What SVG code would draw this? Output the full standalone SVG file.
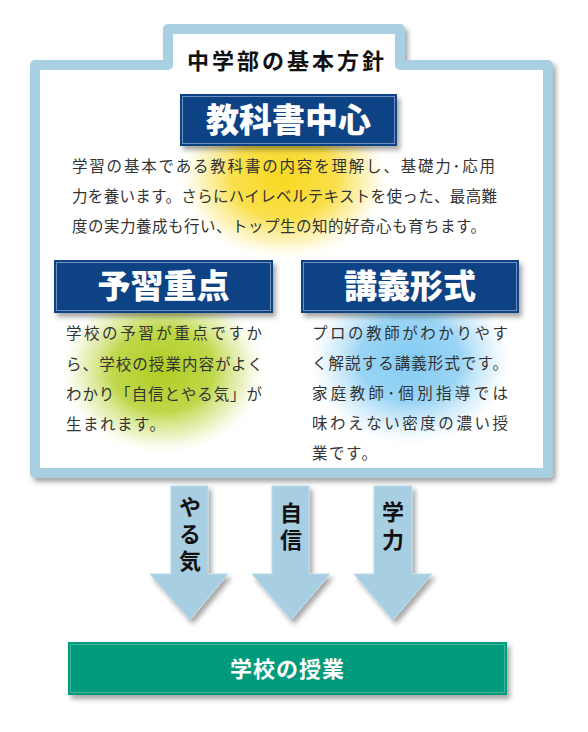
<svg xmlns="http://www.w3.org/2000/svg" width="588" height="732" viewBox="0 0 588 732">
<defs>
<filter id="sh" x="-20%" y="-20%" width="150%" height="150%">
<feDropShadow dx="3" dy="4" stdDeviation="2.5" flood-color="#000" flood-opacity="0.35"/>
</filter>
<radialGradient id="gy" cx="0.5" cy="0.5" r="0.5">
<stop offset="0" stop-color="#f8d820" stop-opacity="1"/>
<stop offset="0.5" stop-color="#f9dc38" stop-opacity="0.9"/>
<stop offset="0.8" stop-color="#fbe77a" stop-opacity="0.45"/>
<stop offset="1" stop-color="#fff8d0" stop-opacity="0"/>
</radialGradient>
<radialGradient id="gg" cx="0.5" cy="0.5" r="0.5">
<stop offset="0" stop-color="#b0cd22" stop-opacity="1"/>
<stop offset="0.5" stop-color="#b8d336" stop-opacity="0.9"/>
<stop offset="0.8" stop-color="#d2e47c" stop-opacity="0.45"/>
<stop offset="1" stop-color="#f0f6c8" stop-opacity="0"/>
</radialGradient>
<radialGradient id="gb" cx="0.5" cy="0.5" r="0.5">
<stop offset="0" stop-color="#82cbf3" stop-opacity="1"/>
<stop offset="0.5" stop-color="#8fd0f4" stop-opacity="0.9"/>
<stop offset="0.8" stop-color="#bce3f7" stop-opacity="0.45"/>
<stop offset="1" stop-color="#e6f5fc" stop-opacity="0"/>
</radialGradient>
<style>
.head{fill:#0b4284;filter:url(#sh)}
.bev{fill:none;stroke:#6f8fbd;stroke-width:1}
.ht{font-family:"Noto Sans CJK JP","Noto Sans",sans-serif;font-weight:900;fill:#fff;font-size:33px;text-anchor:middle}
.p{font-family:"Noto Sans CJK JP","Noto Sans",sans-serif;font-size:15.5px;fill:#333}
.arr{fill:#a8cee2;stroke:#bcdaea;stroke-width:1;filter:url(#sh)}
.al{font-family:"Noto Sans CJK JP","Noto Sans",sans-serif;font-weight:bold;font-size:22px;fill:#111;writing-mode:vertical-rl;text-anchor:start}
</style>
</defs>
<g id="frame">
<path d="M35,65 H168 V29 H400 V65 H548 V473 H35 Z" fill="#fff" stroke="#a8cfe2" stroke-width="10" stroke-linejoin="round" filter="url(#sh)"/>
<text x="287" y="69" font-family="'Noto Sans CJK JP','Noto Sans',sans-serif" font-weight="bold" font-size="22" letter-spacing="3" text-anchor="middle" fill="#111">中学部の基本方針</text>
</g>
<g id="glows">
<ellipse cx="284" cy="178" rx="105" ry="82" fill="url(#gy)"/>
<ellipse cx="163" cy="370" rx="102" ry="84" fill="url(#gg)"/>
<ellipse cx="410" cy="360" rx="102" ry="86" fill="url(#gb)"/>
</g>
<g id="node-kyokasho">
<rect class="head" x="180" y="94" width="217" height="52"/>
<rect class="bev" x="182.5" y="96.5" width="212" height="47"/>
<text class="ht" x="288.5" y="132">教科書中心</text>
<text class="p" x="72" y="172" textLength="423" lengthAdjust="spacing">学習の基本である教科書の内容を理解し、基礎力･応用</text>
<text class="p" x="72" y="202" textLength="425" lengthAdjust="spacing">力を養います。さらにハイレベルテキストを使った、最高難</text>
<text class="p" x="72" y="232" textLength="414" lengthAdjust="spacing">度の実力養成も行い、トップ生の知的好奇心も育ちます。</text>
</g>
<g id="node-yoshu">
<rect class="head" x="54" y="260" width="219" height="53"/>
<rect class="bev" x="56.5" y="262.5" width="214" height="48"/>
<text class="ht" x="163.5" y="298">予習重点</text>
<text class="p" x="66" y="339" textLength="196" lengthAdjust="spacing">学校の予習が重点ですか</text>
<text class="p" x="66" y="370" textLength="197" lengthAdjust="spacing">ら、学校の授業内容がよく</text>
<text class="p" x="66" y="400" textLength="196" lengthAdjust="spacing">わかり「自信とやる気」が</text>
<text class="p" x="66" y="430" letter-spacing="1.5">生まれます。</text>
</g>
<g id="node-kogi">
<rect class="head" x="301" y="260" width="218" height="53"/>
<rect class="bev" x="303.5" y="262.5" width="213" height="48"/>
<text class="ht" x="410" y="298">講義形式</text>
<text class="p" x="312" y="339" textLength="196" lengthAdjust="spacing">プロの教師がわかりやす</text>
<text class="p" x="312" y="369" textLength="196" lengthAdjust="spacing">く解説する講義形式です。</text>
<text class="p" x="312" y="399" textLength="196" lengthAdjust="spacing">家庭教師･個別指導では</text>
<text class="p" x="312" y="429" textLength="196" lengthAdjust="spacing">味わえない密度の濃い授</text>
<text class="p" x="312" y="459" letter-spacing="1.5">業です。</text>
</g>
<g id="connectors">
<path class="arr" d="M171,486 H208 V574 H228 L190,620 L150,574 H171 Z"/>
<path class="arr" d="M272,486 H309 V574 H330 L291,620 L252,574 H272 Z"/>
<path class="arr" d="M374,486 H412 V574 H432 L393,620 L354,574 H374 Z"/>
<text class="al" x="190" y="496" letter-spacing="5">やる気</text>
<text class="al" x="291" y="502" letter-spacing="5">自信</text>
<text class="al" x="393" y="501" letter-spacing="6">学力</text>
</g>
<g id="node-jugyo">
<rect x="68" y="642" width="439" height="53" fill="#009a7d" filter="url(#sh)"/>
<rect x="70.5" y="644.5" width="434" height="48" fill="none" stroke="#3fb59b" stroke-width="1"/>
<text x="287.5" y="677" font-family="'Noto Sans CJK JP','Noto Sans',sans-serif" font-weight="bold" font-size="22" text-anchor="middle" fill="#fff" letter-spacing="1">学校の授業</text>
</g>
</svg>
